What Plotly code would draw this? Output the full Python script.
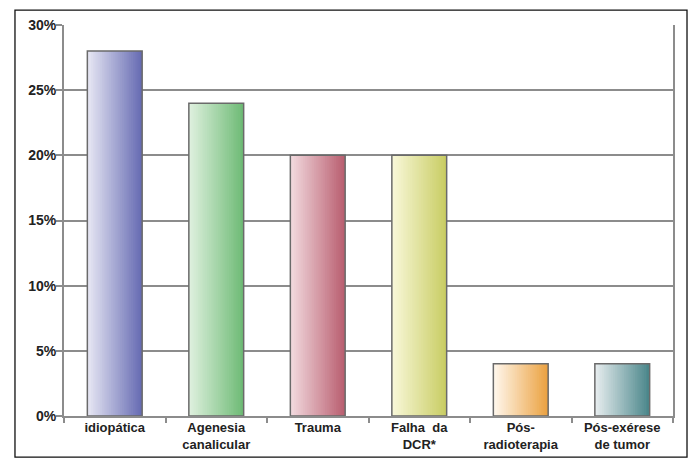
import plotly.graph_objects as go

categories = ["idiopática", "Agenesia<br>canalicular", "Trauma", "Falha  da<br>DCR*", "Pós-<br>radioterapia", "Pós-exérese<br>de tumor"]
values = [28, 24, 20, 20, 4, 4]
left_colors = ["#e6e6f3", "#def0de", "#f2d9de", "#f8f7d8", "#fff7ec", "#e6ecee"]
right_colors = ["#676cb3", "#6fbb76", "#b95f70", "#c9cd64", "#eba242", "#4b878b"]
y_ticks = [0, 5, 10, 15, 20, 25, 30]
y_tick_labels = ["0%", "5%", "10%", "15%", "20%", "25%", "30%"]

def hex2rgb(h):
    h = h.lstrip("#")
    return tuple(int(h[i:i + 2], 16) for i in (0, 2, 4))

def mix(c1, c2, t):
    a, b = hex2rgb(c1), hex2rgb(c2)
    return "rgb(%d,%d,%d)" % tuple(round(a[k] + (b[k] - a[k]) * t) for k in range(3))

BAR_W = 0.54
N = 30
fig = go.Figure()
for i in range(N):
    t = i / (N - 1)
    fig.add_trace(go.Bar(
        x=categories, y=values,
        width=BAR_W / N * 1.6 if i < N - 1 else BAR_W / N,
        offset=-BAR_W / 2 + i * BAR_W / N,
        marker=dict(color=[mix(l, r, t) for l, r in zip(left_colors, right_colors)],
                    line=dict(width=0)),
        showlegend=False, hoverinfo="skip",
    ))
# outline
fig.add_trace(go.Bar(
    x=categories, y=values, width=BAR_W, offset=-BAR_W / 2,
    marker=dict(color="rgba(0,0,0,0)", line=dict(color="#6a6a6a", width=1.5)),
    showlegend=False, hoverinfo="skip",
))

fig.update_layout(
    width=694, height=459,
    margin=dict(l=64, r=21, t=25, b=43),
    barmode="overlay",
    plot_bgcolor="white", paper_bgcolor="white",
    font=dict(family="Liberation Sans, Arial, sans-serif", color="#222222"),
    shapes=[dict(type="rect", xref="paper", yref="paper",
                 x0=-0.0805, x1=1.023, y0=-0.105, y1=1.038,
                 line=dict(color="#111111", width=1.3), layer="below")],
)
fig.update_yaxes(
    range=[0, 30], tickvals=y_ticks, ticktext=y_tick_labels,
    showgrid=True, gridcolor="#8c8c8c", gridwidth=1.5,
    showline=True, linecolor="#8c8c8c", linewidth=2, mirror=True,
    ticks="outside", ticklen=6, tickcolor="#8c8c8c", tickwidth=1.5,
    ticklabelstandoff=-3, automargin=False,
    tickfont=dict(size=14, weight="bold", color="#222222"),
    zeroline=False,
)
fig.update_xaxes(
    showline=True, linecolor="#8c8c8c", linewidth=2,
    ticks="outside", tickson="boundaries", ticklen=5, tickcolor="#8c8c8c", tickwidth=1.5,
    ticklabelstandoff=-2, automargin=False,
    tickfont=dict(size=13, weight="bold", color="#222222"),
    showgrid=False,
)
fig.write_html("out.html")
